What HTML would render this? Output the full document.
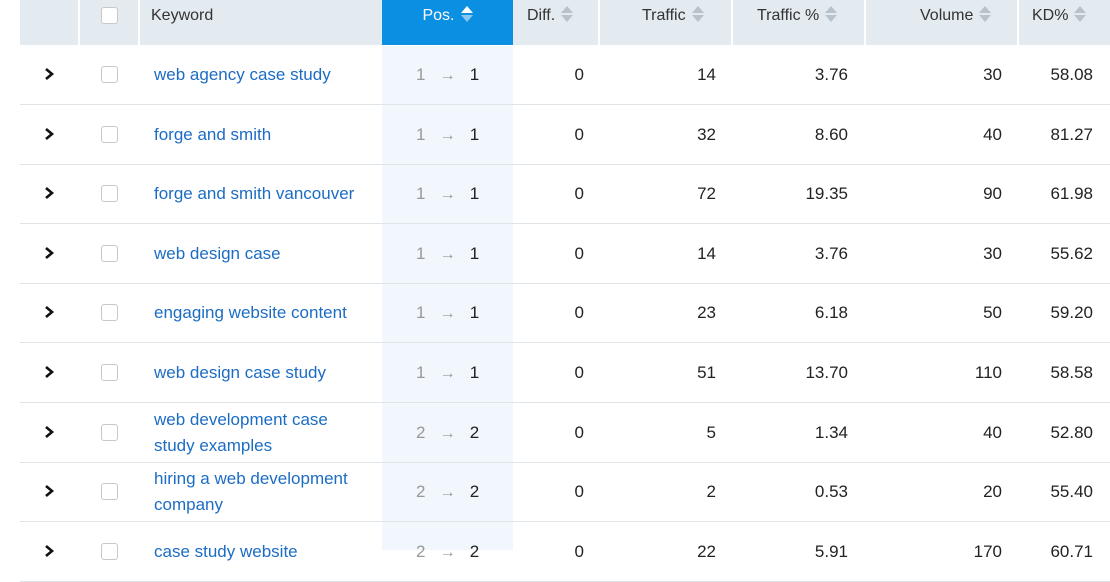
<!DOCTYPE html>
<html><head><meta charset="utf-8"><style>
*{margin:0;padding:0;box-sizing:border-box}
body{width:1110px;height:550px;overflow:hidden;background:#fff;font-family:"Liberation Sans",sans-serif;font-size:17px;color:#222;position:relative}
.hdr{position:absolute;left:20px;top:0;width:1090px;height:45px;background:#e3eaf0}
.hc{position:absolute;top:0;height:45px;line-height:32px;color:#333;font-size:16px}
.sep{position:absolute;top:0;width:2px;height:45px;background:#fff}
.posbg{position:absolute;left:382px;top:46px;width:131px;height:504px;background:#f1f7fc}
.row{position:absolute;left:20px;width:1090px;height:60px;border-bottom:1px solid #dfe4e8}
.c{position:absolute;line-height:20px}
.r{text-align:right}
.kw{position:absolute;left:134px;width:214px;color:#1c6cc4;line-height:26px}
.cb{position:absolute;left:81px;width:17px;height:17px;border:1px solid #c8c8c8;border-radius:3px;background:#fff}
.sort{display:inline-block;vertical-align:middle;margin-left:6px;width:12px;height:18px;position:relative;top:-2px}
.sort:before,.sort:after{content:"";position:absolute;left:0;border-left:6px solid transparent;border-right:6px solid transparent}
.sort:before{top:1px;border-bottom:7px solid #b8c2ca}
.sort:after{top:10px;border-top:7px solid #b8c2ca}
.sw:before{border-bottom-color:#fff}.sw:after{border-top-color:#8cc7f0}
.g{color:#999}.ar{color:#999;font-size:16px}
</style></head><body>
<div class="hdr">
<div class="sep" style="left:58px"></div><div class="sep" style="left:118px"></div>
<div style="position:absolute;left:362px;top:0;width:131px;height:45px;background:#0b8fe3"></div>
<div class="sep" style="left:578px"></div><div class="sep" style="left:711px"></div><div class="sep" style="left:844px"></div><div class="sep" style="left:997px"></div>
<div class="cb" style="top:7px"></div>
<div class="hc" style="left:131px">Keyword</div>
<div class="hc" style="left:362px;width:131px;text-align:center;color:#fff">Pos.<span class="sort sw"></span></div>
<div class="hc" style="left:507px">Diff.<span class="sort"></span></div>
<div class="hc" style="left:622px">Traffic<span class="sort"></span></div>
<div class="hc" style="left:737px">Traffic %<span class="sort"></span></div>
<div class="hc" style="left:900px">Volume<span class="sort"></span></div>
<div class="hc" style="left:1012px">KD%<span class="sort"></span></div>
</div>
<div class="posbg"></div>
<div id="rows"></div>
<script>
var d=[["web agency case study",1,14,"3.76",30,"58.08"],["forge and smith",1,32,"8.60",40,"81.27"],["forge and smith vancouver",1,72,"19.35",90,"61.98"],["web design case",1,14,"3.76",30,"55.62"],["engaging website content",1,23,"6.18",50,"59.20"],["web design case study",1,51,"13.70",110,"58.58"],["web development case study examples",2,5,"1.34",40,"52.80"],["hiring a web development company",2,2,"0.53",20,"55.40"],["case study website",2,22,"5.91",170,"60.71"]];
var h="";
d.forEach(function(r,i){var top=45+59.6*i;var two=r[0].length>26;
h+='<div class="row" style="top:'+top+'px">'+
'<svg style="position:absolute;left:23px;top:22px" width="12" height="14"><polyline points="3,2 9,7 3,12" fill="none" stroke="#111" stroke-width="2.6"/></svg>'+
'<div class="cb" style="top:21px"></div>'+
'<div class="kw" style="top:'+(two?4:17)+'px">'+r[0]+'</div>'+
'<div class="c" style="left:396px;top:20px"><span class="g">'+r[1]+'</span>&nbsp;&nbsp;&nbsp;<span class="ar">→</span>&nbsp;&nbsp;&nbsp;'+r[1]+'</div>'+
'<div class="c r" style="left:500px;width:64px;top:20px">0</div>'+
'<div class="c r" style="left:600px;width:96px;top:20px">'+r[2]+'</div>'+
'<div class="c r" style="left:730px;width:98px;top:20px">'+r[3]+'</div>'+
'<div class="c r" style="left:880px;width:102px;top:20px">'+r[4]+'</div>'+
'<div class="c r" style="left:1000px;width:73px;top:20px">'+r[5]+'</div></div>';});
document.getElementById("rows").innerHTML=h;
</script>
</body></html>
